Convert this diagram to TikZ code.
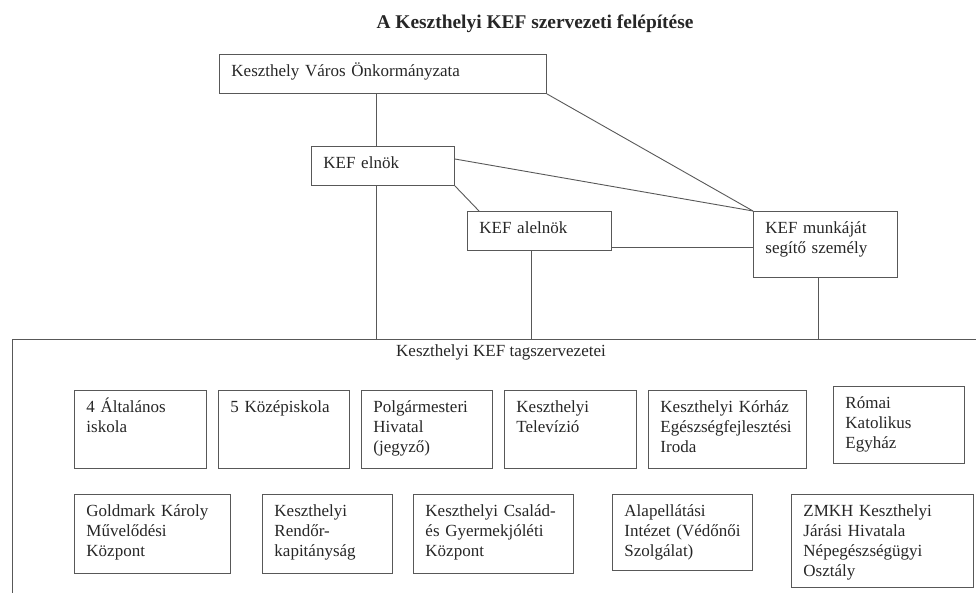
\documentclass[tikz,border=0pt]{standalone}
\usepackage{fontspec}
\setmainfont{Liberation Serif}
\usepackage{xcolor}
\usetikzlibrary{positioning, calc}

\definecolor{linegray}{HTML}{585858}
\definecolor{ink}{HTML}{262626}

\begin{document}
\begin{tikzpicture}[x=1pt, y=-1pt,
    box/.style={draw=linegray, line width=0.9pt, anchor=north west, align=left,
      inner xsep=12pt, inner ysep=0pt, text height=22pt, text=ink,
      font=\fontsize{17}{20}\selectfont},
    wh/.style 2 args={text width=#1-24pt, text depth=#2-22pt},
    conn/.style={draw=linegray, line width=0.9pt}]
      \useasboundingbox (0,0) rectangle (976,593);

      \node[anchor=base, text=ink, font=\fontsize{19.4}{23}\selectfont\bfseries] (title) at (535,29) {A Keszthelyi KEF szervezeti felépítése};

      % vezetés
      \node[box, wh={327pt}{39pt}] (onk) at (219,54) {Keszthely Város Önkormányzata};
      \node[box, wh={143pt}{39pt}] (elnok) at (311,146) {KEF elnök};
      \node[box, wh={144pt}{39pt}] (alelnok) at (467,211) {KEF alelnök};
      \node[box, wh={144pt}{66pt}] (segito) at (753,211) {KEF munkáját\\segítő személy};

      % tagszervezetek kerete
      \coordinate (fline) at (12,339);
      \draw[conn] (976,339) -- (fline) -- (12,593);
      \node[anchor=base, text=ink, font=\fontsize{17}{20}\selectfont] (tag) at (501,356) {Keszthelyi KEF tagszervezetei};

      \coordinate (e1) at ([xshift=65pt]elnok.north west);
      \coordinate (a1) at ([xshift=64pt]alelnok.south west);
      \coordinate (s1) at ([xshift=65pt]segito.south west);
      \draw[conn] (onk.south -| e1) -- (e1);
      \draw[conn] (elnok.south -| e1) -- (e1 |- fline);
      \draw[conn] (a1) -- (a1 |- fline);
      \draw[conn] (s1) -- (s1 |- fline);
      \draw[conn] (onk.south east) -- (segito.north west);
      \draw[conn] ([yshift=-13pt]elnok.north east) -- (segito.north west);
      \draw[conn] (elnok.south east) -- ([xshift=12pt]alelnok.north west);
      \coordinate (a2) at ([yshift=3pt]alelnok.south east);
      \draw[conn] (a2) -- (a2 -| segito.west);

      % első sor
      \node[box, wh={132pt}{78pt}] (t1) at (74,390) {4 Általános\\iskola};
      \node[box, wh={131pt}{78pt}] (t2) at (218,390) {5 Középiskola};
      \node[box, wh={131pt}{78pt}] (t3) at (361,390) {Polgármesteri\\Hivatal\\(jegyző)};
      \node[box, wh={132pt}{78pt}] (t4) at (504,390) {Keszthelyi\\Televízió};
      \node[box, wh={158pt}{78pt}] (t5) at (648,390) {Keszthelyi Kórház\\Egészségfejlesztési\\Iroda};
      \node[box, wh={131pt}{77pt}] (t6) at (833,386) {Római\\Katolikus\\Egyház};

      % második sor
      \node[box, wh={156pt}{79pt}] (t7) at (74,494) {Goldmark~Károly\\Művelődési\\Központ};
      \node[box, wh={130pt}{79pt}] (t8) at (262,494) {Keszthelyi\\Rendőr-\\kapitányság};
      \node[box, wh={160pt}{79pt}] (t9) at (413,494) {Keszthelyi~Család-\\és~Gyermekjóléti\\Központ};
      \node[box, wh={140pt}{76pt}] (t10) at (612,494) {Alapellátási\\Intézet~(Védőnői\\Szolgálat)};
      \node[box, wh={182pt}{93pt}] (t11) at (791,494) {ZMKH~Keszthelyi\\Járási~Hivatala\\Népegészségügyi\\Osztály};

    \end{tikzpicture}
\end{document}
